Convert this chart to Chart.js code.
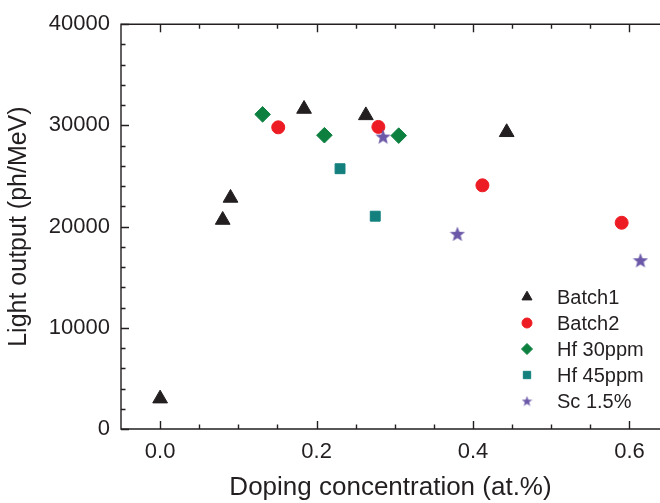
<!DOCTYPE html>
<html>
<head>
<meta charset="utf-8">
<script src="https://cdn.jsdelivr.net/npm/chart.js@4.4.1/dist/chart.umd.min.js"></script>
<style>
  html, body { margin: 0; padding: 0; background: #fff; overflow: hidden; }
  #wrap { width: 660px; height: 503px; position: relative; }
</style>
</head>
<body>
<div id="wrap"><canvas id="chart" width="660" height="503"></canvas></div>
<script>
// tick values
const xTicks = [0.0, 0.2, 0.4, 0.6];
const yTicks = [0, 10000, 20000, 30000, 40000];

// series (doping at.%, light output ph/MeV)
const seriesNames = ['Batch1', 'Batch2', 'Hf 30ppm', 'Hf 45ppm', 'Sc 1.5%'];
const batch1X = [0.0, 0.080, 0.090, 0.184, 0.263, 0.443];
const batch1Y = [3000, 20650, 22830, 31620, 30990, 29320];
const batch2X = [0.151, 0.279, 0.412, 0.590];
const batch2Y = [29810, 29850, 24080, 20380];
const hf30X = [0.131, 0.210, 0.305];
const hf30Y = [31090, 29030, 28990];
const hf45X = [0.230, 0.275];
const hf45Y = [25720, 21030];
const scX = [0.285, 0.380, 0.614];
const scY = [28900, 19290, 16680];

const INK = '#231f20';
const FONT = '"Liberation Sans", Arial, Helvetica, sans-serif';

function starCanvas(size, color) {
  const c = document.createElement('canvas');
  c.width = size; c.height = size;
  const g = c.getContext('2d');
  const cx = size / 2, cy = size / 2 + size * 0.05;
  const ro = size / 2, ri = ro * 0.42;
  g.beginPath();
  for (let i = 0; i < 10; i++) {
    const r = i % 2 ? ri : ro;
    const a = -Math.PI / 2 + i * Math.PI / 5;
    g.lineTo(cx + r * Math.cos(a), cy + r * Math.sin(a));
  }
  g.closePath();
  g.fillStyle = color;
  g.fill();
  return c;
}

const pts = (xs, ys) => xs.map((x, i) => ({ x: x, y: ys[i] }));

const styles = [
  { color: INK, style: 'triangle', r: 8.5, lr: 5.8 },
  { color: '#ed1c24', style: 'circle', r: 6.5, lr: 5 },
  { color: '#0d8040', style: 'rectRot', r: 7.8, lr: 5.5 },
  { color: '#13807e', style: 'rect', r: 7, lr: 5.2 },
  { color: '#6b58a8', style: starCanvas(16, '#6b58a8'), r: 8, lr: 5, legendImg: starCanvas(11, '#6b58a8') }
];
const seriesData = [pts(batch1X, batch1Y), pts(batch2X, batch2Y), pts(hf30X, hf30Y), pts(hf45X, hf45Y), pts(scX, scY)];

const datasets = seriesNames.map((name, i) => ({
  label: name,
  data: seriesData[i],
  pointStyle: styles[i].style,
  pointRadius: styles[i].r,
  pointHoverRadius: styles[i].r,
  backgroundColor: styles[i].color,
  borderColor: styles[i].color,
  pointBorderWidth: 1,
  order: 5 - i
}));

// axis frame with inward ticks, plus the legend inside the plot
const framePlugin = {
  id: 'frame',
  beforeDatasetsDraw(chart) {
    const ctx = chart.ctx;
    const a = chart.chartArea;
    const xs = chart.scales.x, ys = chart.scales.y;
    ctx.save();
    ctx.strokeStyle = INK;
    ctx.lineWidth = 1.4;
    ctx.beginPath();
    ctx.moveTo(a.right + 2, a.top); ctx.lineTo(a.left, a.top);
    ctx.lineTo(a.left, a.bottom); ctx.lineTo(a.right + 2, a.bottom);
    ctx.stroke();
    ctx.beginPath();
    for (let v = 0; v <= xs.max; v += 0.05) {
      const major = Math.abs(v / 0.2 - Math.round(v / 0.2)) < 1e-6;
      const len = major ? 8 : 4.5;
      const px = Math.round(xs.getPixelForValue(v)) + 0.5;
      ctx.moveTo(px, a.bottom); ctx.lineTo(px, a.bottom - len);
      ctx.moveTo(px, a.top); ctx.lineTo(px, a.top + len);
    }
    for (let v = 0; v <= 40000; v += 2000) {
      const major = v % 10000 === 0;
      const len = major ? 8 : 4.5;
      const py = Math.round(ys.getPixelForValue(v)) + 0.5;
      ctx.moveTo(a.left, py); ctx.lineTo(a.left + len, py);
    }
    ctx.stroke();
    ctx.restore();
  },
  afterDraw(chart) {
    const ctx = chart.ctx;
    const mx = 527, tx = 557, y0 = 297, dy = 26;
    ctx.save();
    ctx.font = '20px ' + FONT;
    ctx.textBaseline = 'middle';
    seriesNames.forEach((name, i) => {
      const y = y0 + i * dy;
      const s = styles[i];
      ctx.fillStyle = s.color;
      ctx.strokeStyle = s.color;
      Chart.helpers.drawPoint(ctx, {
        pointStyle: s.legendImg || s.style, radius: s.lr, rotation: 0, borderWidth: 1
      }, mx, y);
      ctx.fillStyle = INK;
      ctx.fillText(name, tx, y + 1);
    });
    ctx.restore();
  }
};

new Chart(document.getElementById('chart').getContext('2d'), {
  type: 'scatter',
  data: { datasets },
  options: {
    responsive: false,
    animation: false,
    devicePixelRatio: 1,
    layout: { autoPadding: false, padding: { top: 22, right: 0, left: 0, bottom: 0 } },
    plugins: { legend: { display: false }, tooltip: { enabled: false } },
    scales: {
      x: {
        type: 'linear',
        min: -0.05,
        max: 0.639,
        grid: { display: false, drawTicks: false },
        border: { display: false },
        afterBuildTicks: (s) => { s.ticks = xTicks.map(v => ({ value: v })); },
        afterFit: (s) => { s.height = 74; s.paddingLeft = 0; s.paddingRight = 0; },
        ticks: {
          color: INK, padding: 10,
          font: { family: FONT, size: 22 },
          callback: (v) => Number(v).toFixed(1)
        },
        title: {
          display: true, text: 'Doping concentration (at.%)', color: INK,
          font: { family: FONT, size: 26 }, padding: { top: 0, bottom: 0 }
        }
      },
      y: {
        min: 0,
        max: 40000,
        grid: { display: false, drawTicks: false },
        border: { display: false },
        afterBuildTicks: (s) => { s.ticks = yTicks.map(v => ({ value: v })); },
        afterFit: (s) => { s.width = 121; },
        ticks: {
          color: INK, padding: 11,
          font: { family: FONT, size: 22 },
          callback: (v) => String(v)
        },
        title: {
          display: true, text: 'Light output (ph/MeV)', color: INK,
          font: { family: FONT, size: 25 }, padding: { top: 4, bottom: 0 }
        }
      }
    }
  },
  plugins: [framePlugin]
});
</script>
</body>
</html>
